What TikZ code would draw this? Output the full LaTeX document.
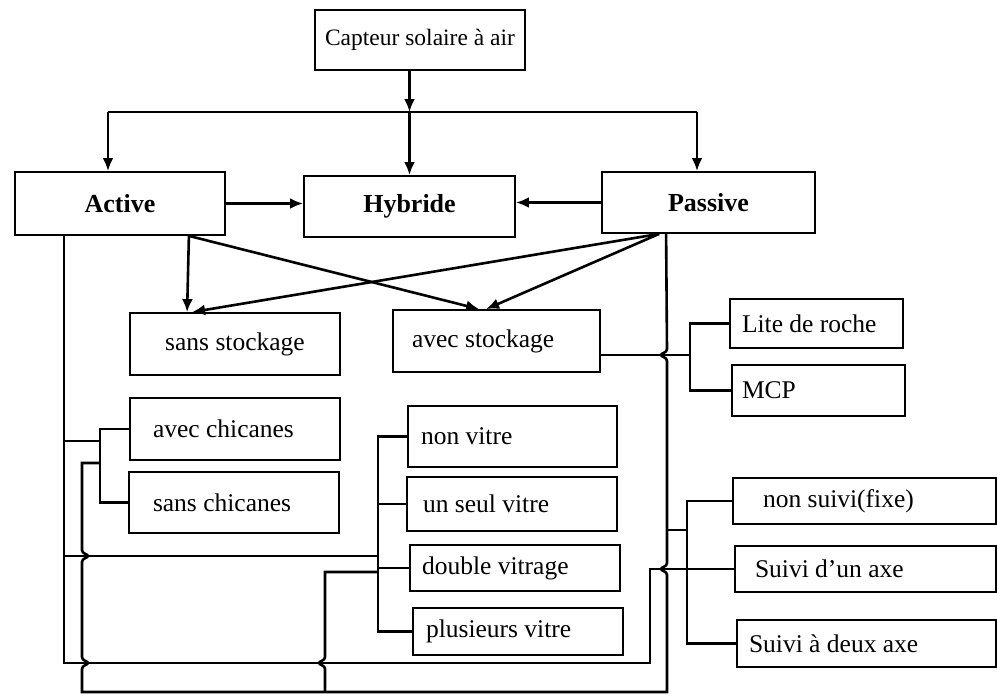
\documentclass[tikz,border=0pt]{standalone}
\usepackage{fontspec}
\setmainfont{Liberation Serif}
\usetikzlibrary{arrows.meta, positioning}

\tikzset{
  box/.style={draw, line width=1.8pt, inner sep=0pt, font=\fontsize{25.5}{30}\selectfont},
  lbox/.style={box, align=flush left},
  head/.style={box, font=\fontsize{26}{31}\selectfont\bfseries},
  link/.style={line width=2.6pt},
  arr/.style={link, -{Latex[length=13pt, width=11pt]}},
}

\begin{document}
\begin{tikzpicture}[x=1pt, y=-1pt]
  \useasboundingbox (0,0) rectangle (997,696);

  % boxes
  \node[box, minimum width=210pt, minimum height=60pt, font=\fontsize{23.5}{28}\selectfont] (cap) at (420,40) {Capteur solaire à air};
  \node[head, minimum width=210pt, minimum height=63pt] (act) at (120,203.5) {Active};
  \node[head, minimum width=211pt, minimum height=61pt] (hyb) at (409.5,206.5) {Hybride};
  \node[head, minimum width=213pt, minimum height=61pt] (pas) at (708.5,202.5) {Passive};

  \node[box, minimum width=210pt, minimum height=62pt] (sst) at (235,344) {sans stockage};
  \node[lbox, text width=169pt, inner xsep=19pt, minimum height=62pt] (ast) at (496.5,341) {avec stockage};
  \node[lbox, text width=149pt, inner xsep=12pt, minimum height=49pt] (lite) at (816.5,323.5) {Lite de roche};
  \node[lbox, text width=153pt, inner xsep=10pt, minimum height=51pt] (mcp) at (818.5,390.5) {MCP};

  \node[lbox, text width=164pt, inner xsep=23pt, minimum height=62pt] (ach) at (235,429) {avec chicanes};
  \node[lbox, text width=162pt, inner xsep=24pt, minimum height=61pt] (sch) at (234,502.5) {sans chicanes};

  \node[lbox, text width=183pt, inner xsep=13pt, minimum height=61pt] (nv) at (512.5,436.5) {non vitre};
  \node[lbox, text width=178pt, inner xsep=16pt, minimum height=54pt] (usv) at (512,504) {un seul vitre};
  \node[lbox, text width=186pt, inner xsep=12pt, minimum height=46pt] (dv) at (515,568) {double vitrage};
  \node[lbox, text width=184pt, inner xsep=13pt, minimum height=47pt] (pv) at (518,631.5) {plusieurs vitre};

  \node[lbox, text width=203pt, inner xsep=30pt, minimum height=46pt] (nsf) at (864.5,501) {non suivi(fixe)};
  \node[lbox, text width=221pt, inner xsep=20pt, minimum height=46pt] (s1) at (865.5,569) {Suivi d’un axe};
  \node[lbox, text width=235pt, inner xsep=12pt, minimum height=47pt] (s2) at (866.5,643.5) {Suivi à deux axe};

  % top arrows
  \coordinate (bar) at (hyb.north |- 0,112);
  \coordinate (barL) at (108,112);
  \coordinate (barR) at (697,112);
  \draw[arr] (cap.south -| bar) -- (bar);
  \draw[link] (barL) -- (barR);
  \draw[arr] (barL) -- (barL |- act.north);
  \draw[arr] (bar) -- (hyb.north);
  \draw[arr] (barR) -- (barR |- pas.north);
  \draw[arr] (act.east) -- (act.east -| hyb.west);
  \draw[arr] (pas.west) -- (pas.west -| hyb.east);

  % storage
  \coordinate (aS) at ([xshift=-37pt]act.south east);
  \coordinate (pS) at ([xshift=58pt]pas.south west);
  \draw[arr] (aS) -- ([xshift=58pt]sst.north west);
  \draw[arr] (aS) -- ([xshift=87pt]ast.north west);
  \draw[arr] (pS) -- ([xshift=63pt]sst.north west);
  \draw[arr] (pS) -- ([xshift=94pt]ast.north west);

  \coordinate (kb) at (690,355);
  \draw[link] ([yshift=-14pt]ast.east) -- (kb);
  \draw[link] (lite.west) -| (kb) |- (mcp.west);

  % brackets
  \coordinate (ca) at (100,441);
  \coordinate (cb) at (100,463);
  \coordinate (vb) at (378,556);
  \coordinate (sb) at (687,530);
  \draw[link] (ach.west) -| (cb) |- (sch.west);
  \draw[link] (nv.west) -| (vb) |- (pv.west);
  \draw[link] (usv.west) -- (usv.west -| vb);
  \draw[link] (dv.west) -- (dv.west -| vb);
  \draw[link] (nsf.west) -| (sb) |- (s2.west);

  % Active trunk
  \coordinate (aT) at ([xshift=50pt]act.south west);
  \coordinate (aC) at (650,663);
  \draw[link] (aT) -- (aT |- aC) -- (aC) -- (aC |- s1.west) -- (s1.west);
  \draw[link] (aT |- ca) -- (ca);
  \draw[link] (aT |- vb) -- (vb);

  % Passive trunk
  \coordinate (pT) at ([xshift=65pt]pas.south west);
  \coordinate (pv2) at (325,692);
  \draw[link] (pT) -- (667,349) .. controls (667,353) and (661,353) .. (661,355)
    .. controls (661,357) and (667,357) .. (667,361)
    -- (667,563) .. controls (667,567) and (661,567) .. (661,569)
    .. controls (661,571) and (667,571) .. (667,575)
    -- (667,692) -- (82,692)
    -- (82,669) .. controls (82,665) and (88,665) .. (88,663)
    .. controls (88,661) and (82,661) .. (82,657)
    -- (82,562) .. controls (82,558) and (88,558) .. (88,556)
    .. controls (88,554) and (82,554) .. (82,550)
    -- (82,463) -- (cb);
  \draw[link] (pT |- sb) -- (sb);
  \draw[link] (pv2) -- (325,669) .. controls (325,665) and (319,665) .. (319,663)
    .. controls (319,661) and (325,661) .. (325,657) -- (325,572) -- (378,572);

\end{tikzpicture}
\end{document}
